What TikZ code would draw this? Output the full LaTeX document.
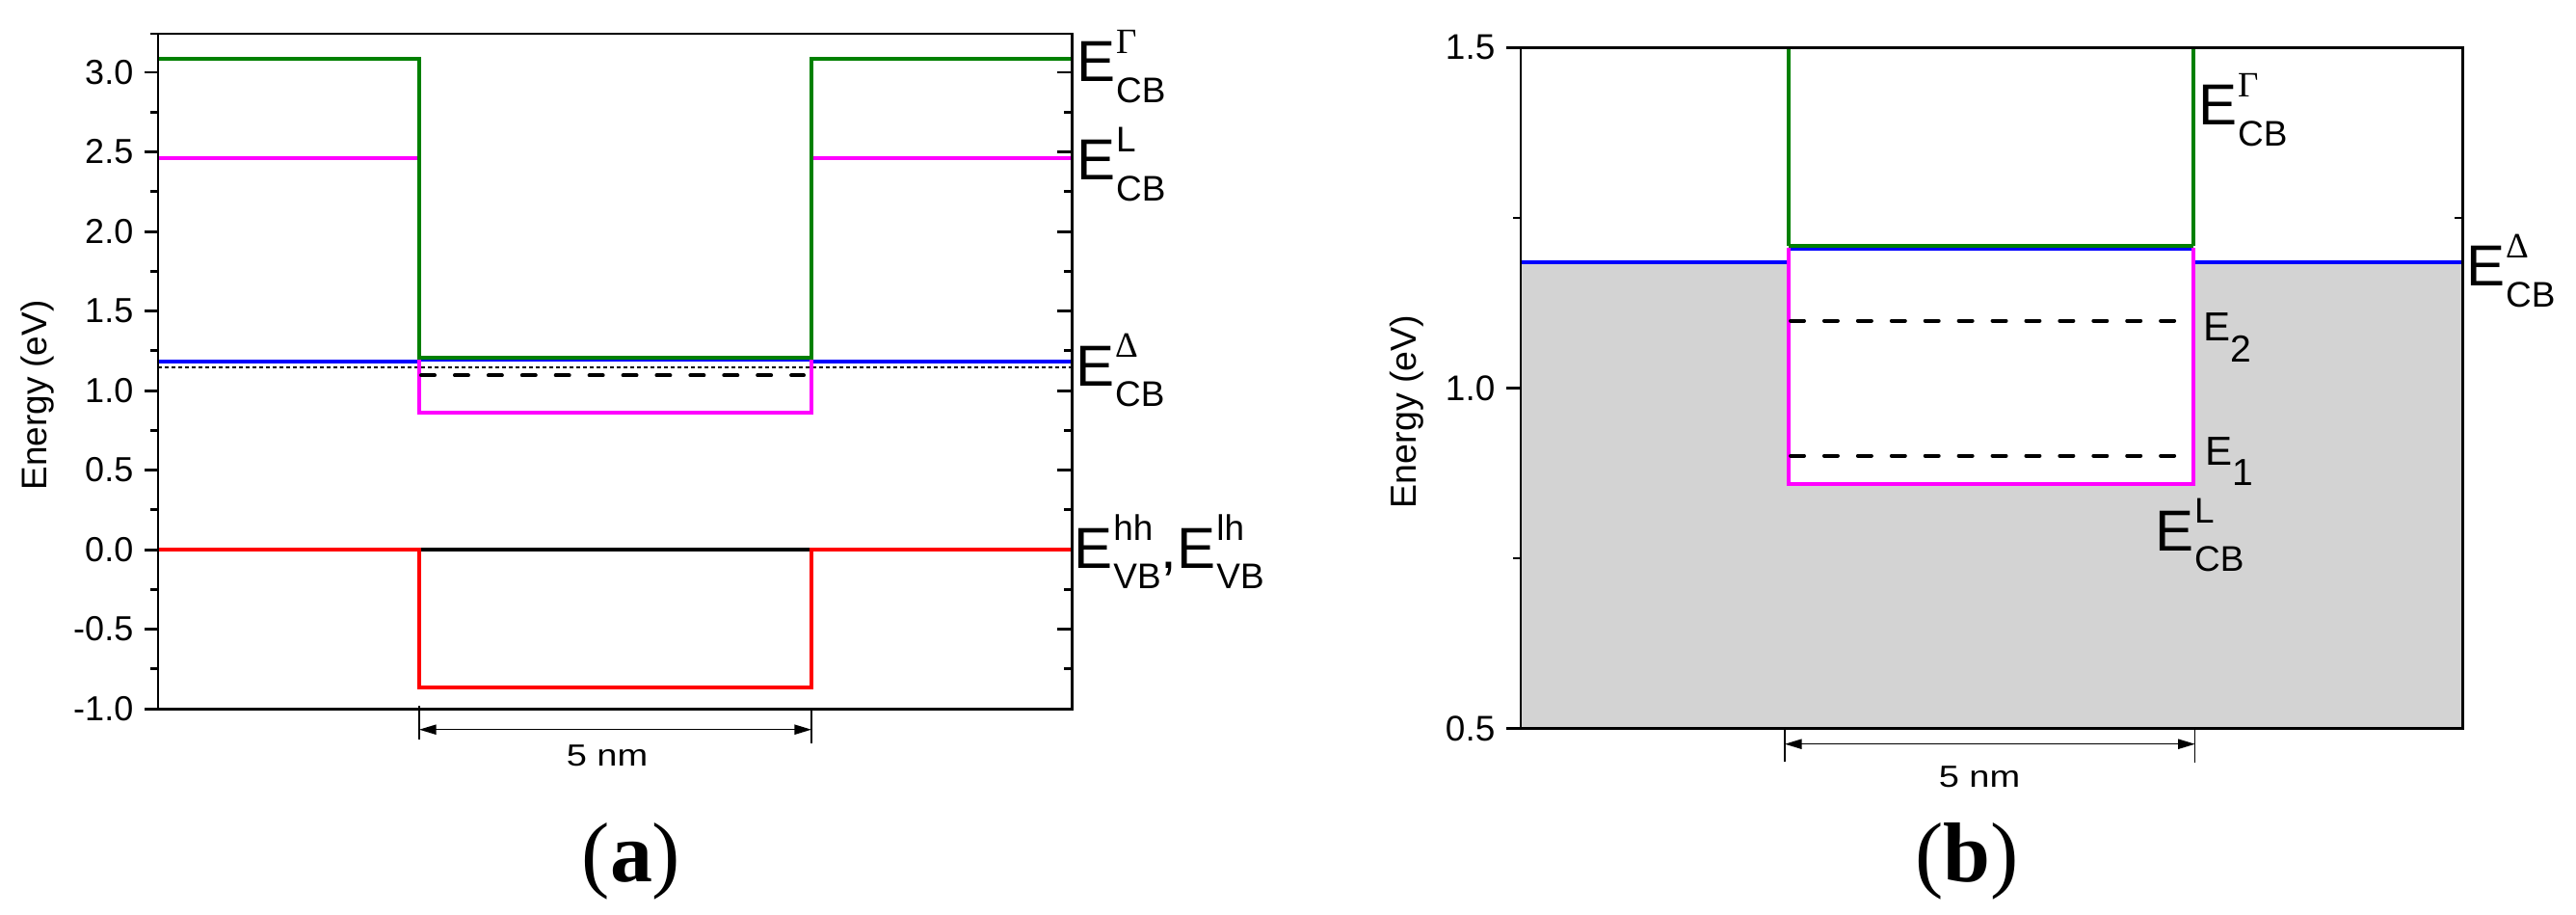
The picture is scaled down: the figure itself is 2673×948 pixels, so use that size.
\documentclass[tikz,border=0pt]{standalone}
\usepackage{fontspec}
\usepackage{graphicx}
\setmainfont{Liberation Sans}
\newfontfamily\serf{Liberation Serif}
\usetikzlibrary{arrows.meta}
\definecolor{cgreen}{RGB}{0,128,0}
\definecolor{cmag}{RGB}{255,0,255}
\definecolor{cblue}{RGB}{0,0,255}
\definecolor{cred}{RGB}{255,0,0}
\definecolor{cgray}{RGB}{211,211,211}
\newcommand\fsz[1]{\fontsize{#1}{#1}\selectfont}
\newcommand\Elab[2]{{\fsz{17.07pt}E}\kern0.3pt\rlap{\raisebox{8.25pt}{\fsz{10.5pt}#1}}\raisebox{-6.2pt}{\fsz{10.5pt}#2}}
\tikzset{
  axisA/.style={line width=0.85pt},
  axisB/.style={line width=0.77pt},
  lvl/.style={line width=1.14pt},
  lvlthin/.style={line width=0.9pt},
  qlev/.style={line width=1.14pt, line cap=round, dash pattern=on 3.98pt off 5.95pt},
  fermi/.style={line width=0.5pt, dash pattern=on 1.14pt off 0.85pt},
  ticklbl/.style={font=\fsz{10.24pt}, inner sep=0pt, anchor=east},
  axtitle/.style={font=\fsz{10.5pt}, inner sep=0pt, rotate=90, anchor=base},
  elbl/.style={inner sep=0pt, anchor=base west},
  sbar/.style={line width=0.43pt},
  dimarrow/.style={line width=0.43pt, {Triangle[length=5pt,width=2.9pt]}-{Triangle[length=5pt,width=2.9pt]}},
  nmlbl/.style={font=\fsz{9pt}, inner sep=0pt, anchor=base},
  panlbl/.style={font=\serf\fsz{25pt}, inner sep=0pt, anchor=base}
}
\begin{document}
\begin{tikzpicture}[x=0.01cm,y=-0.01cm]
\useasboundingbox (0,0) rectangle (2673,948);
% ================= panel (a) =================
\foreach \v [count=\k] in {3.0,2.5,2.0,1.5,1.0,0.5,0.0,-0.5,-1.0}{
  \pgfmathsetmacro\yy{570-165*\v}
  \draw[axisA] (150,\yy) -- (164,\yy) (1097,\yy) -- (1112,\yy);
  \node[ticklbl] (ta\k) at (139,\yy) {\v};
}
\foreach \v in {2.75,2.25,1.75,1.25,0.75,0.25,-0.25,-0.75}{
  \pgfmathsetmacro\yy{570-165*\v}
  \draw[axisA] (156,\yy) -- (164,\yy) (1104,\yy) -- (1112,\yy);
}
\node[axtitle] (ya) at (48,410) {Energy (eV)};
% levels
\draw[fermi] (164,380.7) -- (1112,380.7);
\draw[lvl, cblue] (164,375.3) -- (435,375.3) (842,375.3) -- (1112,375.3);
\draw[lvl, cblue] (435,373) -- (842,373);
\draw[lvl, cmag] (164,163.7) -- (435,163.7) -- (435,428.3) -- (842,428.3) -- (842,163.7) -- (1112,163.7);
\draw[lvl, cgreen] (164,61.3) -- (435,61.3) -- (435,371) -- (842,371) -- (842,61.3) -- (1112,61.3);
\draw[lvl, cred] (164,570) -- (435,570) -- (435,713.3) -- (842,713.3) -- (842,570) -- (1112,570);
\draw[lvl] (437,570) -- (840,570);
\draw[qlev] (437,389.3) -- (834,389.3);
% axes
\draw[axisA] (156,35) -- (1112,35) -- (1112,735) -- (150,735);
\draw[axisA] (164,35) -- (164,735);
% scale bar
\coordinate (sa1) at (435,756.7);
\coordinate (sa2) at (842,756.7);
\draw[sbar] (435,732) -- (435,767) (842,735) -- (842,771);
\draw[dimarrow] (sa1) -- (sa2);
\node[nmlbl] (nma) at (630,794) {\scalebox{1.2}[1]{5 nm}};
% labels
\node[elbl] (lga) at (1116.3,84.3) {\Elab{\serf Γ}{CB}};
\node[elbl] (lla) at (1116.3,186.7) {\Elab{L}{CB}};
\node[elbl] (lda) at (1115.3,400) {\Elab{\serf Δ}{CB}};
\node[elbl] (lva) at (1113.6,589) {\Elab{hh}{VB}{\fsz{17.07pt},}\Elab{lh}{VB}};
\node[panlbl] (pa) at (655,914) {(\textbf{a})};
% ================= panel (b) =================
\fill[cgray] (1578,272.3) -- (1856,272.3) -- (1856,501.7) -- (2276,501.7) -- (2276,272.3) -- (2555.7,272.3) -- (2555.7,755.7) -- (1578,755.7) -- cycle;
\draw[lvl, cblue] (1578,272.3) -- (1856,272.3) (2276,272.3) -- (2555.7,272.3);
\draw[lvlthin, cblue] (1856,258.7) -- (2276,258.7);
\draw[lvl, cmag] (1856,257) -- (1856,501.7) -- (2276,501.7) -- (2276,257);
\draw[lvlthin, cgreen] (1856,49.3) -- (1856,255.3) (2276,255.3) -- (2276,49.3);
\draw[lvl, cgreen] (1856,255.3) -- (2276,255.3);
\draw[qlev] (1858,332.7) -- (2268,332.7);
\draw[qlev] (1858,472.7) -- (2268,472.7);
% ticks b
\draw[axisB] (1563,49.3) -- (1578,49.3) (1563,402.5) -- (1578,402.5) (1563,755.7) -- (1578,755.7);
\draw[axisB] (1570,226) -- (1578,226) (1570,579) -- (1578,579) (2547,226) -- (2555.7,226);
\node[ticklbl, font=\fsz{10.5pt}] (tb1) at (1552,49.3) {1.5};
\node[ticklbl, font=\fsz{10.5pt}] (tb2) at (1552,402.5) {1.0};
\node[ticklbl, font=\fsz{10.5pt}] (tb3) at (1552,755.7) {0.5};
\node[axtitle, font=\fsz{10.67pt}] (yb) at (1469,427) {Energy (eV)};
% axes b
\draw[axisB] (1578,49.3) rectangle (2555.7,755.7);
% scale bar b
\coordinate (sb1) at (1852,771.7);
\coordinate (sb2) at (2277.7,771.7);
\draw[sbar] (1852,756) -- (1852,790) (2277.7,756) -- (2277.7,790.7);
\draw[dimarrow] (sb1) -- (sb2);
\node[nmlbl] (nmb) at (2054,816.7) {\scalebox{1.2}[1]{5 nm}};
% labels b
\node[elbl] (lgb) at (2280.3,129.3) {\Elab{\serf Γ}{CB}};
\node[elbl] (ldb) at (2558.3,296.7) {\Elab{\serf Δ}{CB}};
\node[elbl] (llb) at (2235.3,571) {\Elab{L}{CB}};
\node[elbl] (e2b) at (2285.7,353) {\fsz{11.95pt}E\raisebox{-6.26pt}{\fsz{11.1pt}2}};
\node[elbl] (e1b) at (2287.7,482) {\fsz{11.95pt}E\raisebox{-6pt}{\fsz{11.1pt}1}};
\node[panlbl] (pb) at (2041,914) {(\textbf{b})};
\end{tikzpicture}
\end{document}
